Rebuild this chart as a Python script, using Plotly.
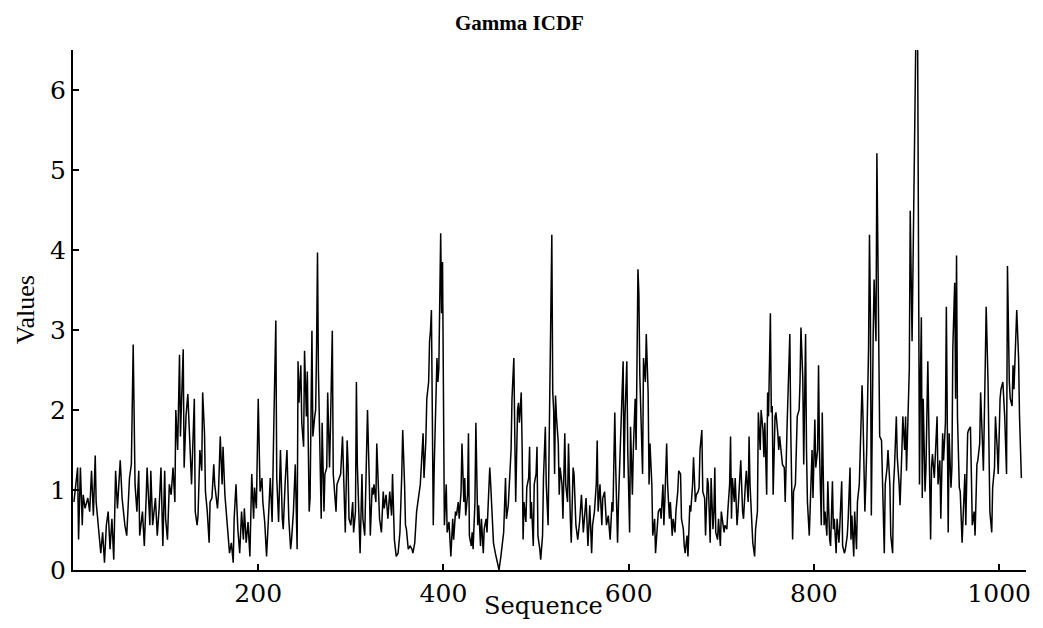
import plotly.graph_objects as go

seq = [1,5,6,8,10,11,13,16,18,20,22,24,25,28,30,32,34,36,38,40,42,44,46,48,51,53,56,58,61,63,65,67,69,71,72,75,77,79,80,83,84,86,89,91,93,95,97,99,100,102,104,106,108,110,111,113,115,116,119,120,122,124,126,128,
131,132,134,135,137,139,140,142,143,145,147,148,150,152,153,156,157,159,161,162,164,166,168,169,171,173,174,176,178,180,182,184,185,187,189,191,193,195,196,198,200,202,204,205,207,209,211,213,215,216,217,219,220,222,224,226,227,229,231,233,235,236,238,240,242,243,244,246,247,249,250,252,253,255,256,
258,259,261,262,263,264,265,266,268,269,271,272,274,275,277,278,280,281,282,284,285,287,289,291,293,294,296,297,298,300,302,303,305,306,307,309,310,312,313,315,316,318,320,321,323,324,325,327,328,330,331,333,335,336,338,340,342,344,345,347,348,349,351,353,355,356,358,359,360,362,364,366,367,369,371,373,375,376,378,379,381,382,384,385,386,387,
388,389,390,392,393,394,395,397,398,399,400,401,403,404,406,407,408,410,411,413,414,416,417,419,420,422,423,424,426,427,428,430,431,432,434,435,437,438,440,441,443,444,446,447,449,450,451,453,454,456,458,460,462,463,465,467,468,470,471,473,474,476,477,478,480,481,482,484,485,486,487,489,490,492,493,494,495,497,498,500,501,502,504,505,507,508,510,511,513,514,515,
516,517,518,519,520,521,522,524,525,526,528,529,531,532,534,535,537,538,540,541,543,545,547,549,551,552,554,556,558,560,561,563,565,566,567,569,571,572,574,576,578,580,582,583,585,586,588,589,591,592,594,595,596,598,599,601,602,604,605,607,608,610,611,612,613,615,616,618,619,621,622,623,625,626,628,629,631,632,634,635,637,638,639,641,642,644,645,
647,648,650,651,653,654,656,657,659,660,661,663,664,666,667,669,670,672,673,675,676,677,679,680,682,683,685,686,688,689,691,692,693,694,696,697,699,700,702,703,704,706,707,709,710,711,712,714,715,717,718,720,721,723,724,726,727,729,730,731,733,734,736,737,739,740,742,743,745,746,747,749,750,751,753,754,755,756,758,759,761,762,763,765,766,768,769,771,772,774,
775,776,777,778,780,781,782,784,785,786,788,789,790,791,792,793,795,796,798,799,801,802,804,805,806,808,809,811,812,814,815,817,818,820,821,822,824,825,827,828,830,831,833,834,836,837,839,840,841,843,844,846,847,849,850,852,853,855,856,857,859,860,861,862,864,865,867,868,869,870,871,873,874,876,877,879,880,882,883,885,886,887,889,890,892,893,895,896,898,899,900,902,903,
904,905,906,907,908,909,910,912,913,914,915,916,917,918,920,921,923,924,926,927,928,930,931,933,934,936,937,939,940,942,943,945,946,948,949,950,952,953,954,955,957,958,960,961,963,964,966,967,969,970,971,973,974,976,977,979,980,982,983,985,986,988,989,990,992,993,995,996,998,999,1001,1002,1004,1005,1006,1008,1009,1011,1012,1014,1015,1016,1018,1019,1021,1022,1024]

values = [0.85,1.28,0.38,1.28,0.56,0.94,0.77,0.9,0.73,1.24,0.68,1.43,0.85,0.47,0.21,0.47,0.09,0.56,0.73,0.26,0.64,0.13,1.24,0.77,1.37,0.9,0.56,0.43,1.15,1.32,2.82,1.07,0.73,1.24,0.43,0.73,0.3,0.9,1.28,0.56,1.24,0.56,0.9,0.43,0.77,1.28,0.3,1.24,0.64,0.38,1.07,0.94,1.28,0.85,2.0,1.5,2.69,1.67,2.76,1.28,1.92,2.2,1.67,1.07,
2.14,0.73,0.56,0.68,1.5,1.24,2.22,1.71,0.98,0.73,0.34,0.85,0.9,1.32,1.07,0.77,0.94,1.67,1.07,1.54,0.94,0.68,0.38,0.21,0.34,0.09,0.64,1.07,0.51,0.21,0.73,0.38,0.77,0.34,0.6,0.17,1.2,0.64,1.03,0.77,2.14,0.98,1.15,0.85,0.6,0.17,0.64,1.15,0.6,1.58,1.92,3.12,1.15,0.6,1.5,0.64,0.51,1.07,1.5,0.64,0.26,0.38,0.73,1.32,0.26,2.61,2.09,2.56,1.84,1.54,2.74,1.92,2.48,0.73,0.9,
2.99,1.67,1.92,2.0,2.78,3.97,2.48,1.71,0.64,1.84,0.73,1.2,1.28,2.22,1.28,1.79,2.99,1.2,1.07,0.73,1.07,1.15,1.2,1.67,0.68,0.47,1.62,1.32,0.64,0.56,0.85,0.47,0.73,2.35,1.32,0.6,0.21,1.2,0.64,0.43,0.94,2.0,1.07,0.43,1.03,0.94,1.07,0.85,1.58,0.98,0.64,0.47,0.98,0.77,0.94,0.64,0.98,0.68,1.2,0.38,0.26,0.17,0.21,0.47,1.2,1.75,1.07,0.56,0.51,0.26,0.3,0.26,0.21,0.34,0.73,0.94,1.07,1.28,1.71,1.15,1.62,2.14,2.35,2.86,2.99,3.25,
1.07,0.56,1.28,2.09,2.65,2.35,2.52,4.21,3.21,3.85,2.35,0.56,1.07,0.47,0.6,0.3,0.17,0.64,0.38,0.73,0.68,0.85,0.64,0.98,1.58,0.85,1.15,0.68,0.94,1.71,0.43,0.3,0.47,0.26,0.85,1.84,0.56,0.81,0.3,0.64,0.21,0.51,0.64,0.47,0.98,1.28,1.07,0.43,0.34,0.21,0.09,0.0,0.17,0.3,0.47,1.15,0.64,0.81,1.07,1.5,2.14,2.65,1.71,0.85,2.0,2.09,1.84,2.22,1.5,0.38,0.85,0.6,1.03,1.15,1.54,0.64,0.85,0.3,1.07,1.2,1.54,0.43,0.26,0.13,0.43,1.15,1.79,1.07,0.56,1.5,2.44,
3.21,4.19,2.22,2.0,1.2,2.18,1.92,1.58,0.94,1.28,1.07,0.64,1.71,1.07,0.85,1.58,0.64,0.34,1.28,1.2,0.56,0.38,0.6,0.94,0.47,0.64,0.9,0.3,0.81,0.21,0.56,0.73,1.07,1.62,0.73,1.07,0.56,0.9,0.98,0.56,0.68,0.38,0.85,0.73,1.97,1.28,0.34,0.85,1.5,1.79,2.61,1.15,1.92,2.61,1.5,0.47,1.79,0.94,1.5,2.14,1.5,3.76,3.46,2.44,2.05,1.2,2.65,2.35,2.95,2.22,1.07,1.58,1.07,0.43,0.64,0.21,0.56,0.73,0.77,0.64,1.07,0.56,0.85,1.58,1.07,0.64,0.85,
0.43,0.64,0.47,0.73,0.98,1.24,1.2,0.64,0.51,0.3,0.21,0.43,0.17,0.81,0.73,1.07,1.41,0.85,0.94,0.98,1.03,1.5,1.75,0.98,0.9,0.43,1.15,1.07,0.34,1.15,0.51,0.73,1.28,0.47,0.38,0.64,0.3,0.73,0.56,0.47,0.56,0.51,0.73,1.07,1.67,0.64,1.15,0.85,1.15,0.56,0.73,1.07,1.37,0.73,0.64,1.07,1.24,0.85,1.67,1.07,0.64,0.34,0.17,0.51,0.73,1.97,1.5,2.0,1.75,1.41,1.84,0.94,2.22,1.92,3.21,1.97,2.05,0.94,1.92,1.97,1.71,1.5,1.67,1.41,1.32,1.28,0.85,1.79,2.22,2.95,
1.75,1.07,0.38,0.98,1.07,1.5,1.92,2.0,2.35,3.03,2.39,1.32,1.92,2.95,1.5,0.85,0.43,0.85,1.5,0.9,1.88,1.28,1.5,2.56,1.5,0.56,1.97,0.56,0.73,0.43,1.11,0.38,0.3,1.11,0.51,0.64,0.21,0.64,0.34,0.56,1.11,0.3,0.21,0.26,0.43,0.64,1.28,0.38,0.68,0.17,0.73,0.26,0.85,1.07,1.5,2.31,1.92,0.73,1.07,1.5,2.78,4.19,3.21,0.68,2.95,3.63,2.86,5.21,4.06,2.78,1.67,1.62,1.07,0.21,1.07,1.28,1.5,1.07,0.43,0.21,1.07,1.28,1.92,1.41,1.07,0.81,1.5,1.92,1.5,1.92,1.24,2.35,2.52,
4.49,3.89,2.86,3.8,4.91,5.98,6.6,6.6,4.06,1.07,2.39,3.16,0.9,2.14,0.98,1.28,2.61,1.67,0.38,1.28,1.45,1.15,1.37,1.92,1.07,1.37,0.64,1.71,1.37,1.84,3.29,0.47,1.71,1.03,1.28,2.78,3.59,2.14,3.93,1.92,1.03,0.98,0.34,0.73,1.2,0.56,1.71,1.75,1.79,1.2,0.56,0.73,0.43,1.32,1.37,1.58,2.22,1.58,1.24,2.56,3.29,2.35,1.5,0.73,0.47,1.03,1.28,1.92,1.5,1.2,2.14,2.26,2.35,2.18,1.92,1.2,3.8,2.35,2.14,2.05,2.56,2.26,2.78,3.25,2.65,1.92,1.15]

x_ticks = [200, 400, 600, 800, 1000]
y_ticks = [0, 1, 2, 3, 4, 5, 6]
title_text = "Gamma ICDF"
x_label = "Sequence"
y_label = "Values"

n = min(len(seq), len(values))

fig = go.Figure()
fig.add_trace(go.Scatter(x=seq[:n], y=values[:n], mode="lines",
                         line=dict(color="black", width=1.5), showlegend=False))

axis_common = dict(showgrid=False, zeroline=False, showline=True, linecolor="black",
                   linewidth=2, ticks="inside", ticklen=6, tickwidth=1.5, tickcolor="black",
                   tickfont=dict(family="DejaVu Serif", size=25, color="black"), mirror=False)

# the page body has an 8px default margin, so the figure is sized to fit the window
fig.update_layout(
    width=1035, height=620,
    margin=dict(l=65, r=14, t=42, b=58),
    plot_bgcolor="white", paper_bgcolor="white",
    xaxis=dict(range=[0, 1029], tickvals=x_ticks, ticktext=[str(v) for v in x_ticks], **axis_common),
    yaxis=dict(range=[0, 6.5], tickvals=y_ticks, ticktext=[str(v) for v in y_ticks], **axis_common),
    annotations=[
        dict(text="<b>" + title_text + "</b>", xref="paper", yref="paper", x=0.4686, y=1.079,
             showarrow=False, xanchor="center", yanchor="top",
             font=dict(family="Liberation Serif", size=21, color="black")),
        dict(text=x_label, xref="paper", yref="paper", x=0.494, y=-0.069,
             showarrow=False, xanchor="center", yanchor="middle",
             font=dict(family="DejaVu Serif", size=24, color="black")),
        dict(text=y_label, xref="paper", yref="paper", x=-0.050, y=0.5,
             showarrow=False, xanchor="center", yanchor="middle", textangle=-90,
             font=dict(family="Liberation Serif", size=26, color="black")),
    ],
)

fig.write_html("out.html")
